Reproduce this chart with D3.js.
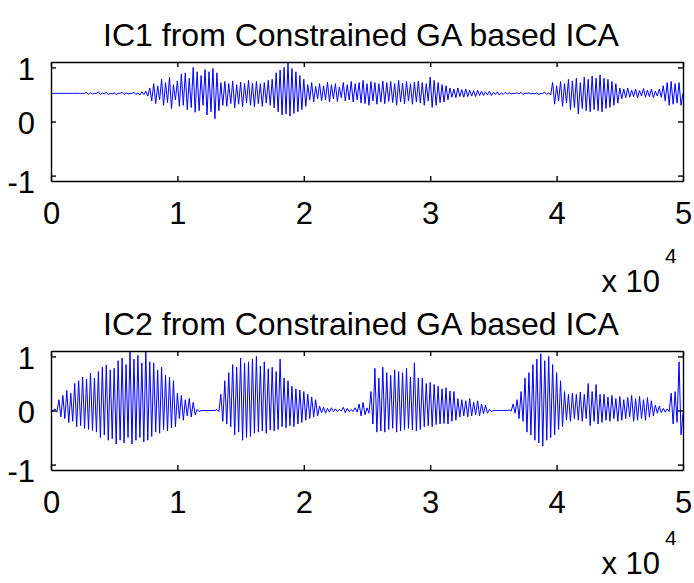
<!DOCTYPE html>
<html>
<head>
<meta charset="utf-8">
<script src="https://cdn.jsdelivr.net/npm/d3@7/dist/d3.min.js"></script>
<style>
  html, body { margin: 0; padding: 0; background: #fff; }
  svg { display: block; }
  text { font-family: "Liberation Sans", Arial, Helvetica, sans-serif; fill: #000; }
</style>
</head>
<body>
<svg id="chart" width="694" height="583"></svg>
<script>
// Two independent components recovered by the constrained GA based ICA,
// drawn over 50000 samples (one stored sample every 156.25 points).
const sampleCount = 50000;

const titles = ["IC1 from Constrained GA based ICA", "IC2 from Constrained GA based ICA"];
const xTickValues = [0, 10000, 20000, 30000, 40000, 50000];
const xTickLabels = ["0", "1", "2", "3", "4", "5"];
const yTickValues = [-1, 0, 1];
const yTickLabels = ["-1", "0", "1"];
const xExponent = "4";

const ic1 = [
  0.52,0.52, 0.52,0.52, 0.52,0.52, 0.52,0.52, 0.52,0.52,
  0.52,0.52, 0.52,0.52, 0.52,0.52, 0.52,0.52, 0.54,0.50,
  0.53,0.51, 0.52,0.52, 0.55,0.50, 0.53,0.51, 0.54,0.50,
  0.52,0.51, 0.53,0.50, 0.52,0.52, 0.54,0.50, 0.53,0.51,
  0.52,0.52, 0.54,0.50, 0.53,0.49, 0.55,0.50, 0.56,0.47,
  0.62,0.38, 0.70,0.33, 0.66,0.40, 0.78,0.30, 0.72,0.35,
  0.82,0.24, 0.68,0.40, 0.75,0.28, 0.88,0.30, 0.90,0.22,
  0.80,0.26, 1.00,0.17, 0.92,0.20, 0.85,0.30, 0.96,0.12,
  0.92,0.18, 0.98,0.05, 0.90,0.20, 0.72,0.30, 0.74,0.28,
  0.70,0.33, 0.75,0.25, 0.68,0.32, 0.73,0.27, 0.70,0.34,
  0.76,0.30, 0.71,0.27, 0.74,0.33, 0.70,0.28, 0.72,0.34,
  0.76,0.30, 0.78,0.25, 0.90,0.18, 0.95,0.12, 1.00,0.14,
  1.08,0.10, 0.98,0.15, 0.92,0.18, 0.85,0.22, 0.78,0.28,
  0.68,0.40, 0.72,0.36, 0.65,0.42, 0.70,0.38, 0.66,0.40,
  0.73,0.36, 0.68,0.42, 0.70,0.37, 0.64,0.44, 0.72,0.38,
  0.68,0.40, 0.74,0.36, 0.70,0.40, 0.72,0.34, 0.76,0.33,
  0.70,0.30, 0.74,0.38, 0.72,0.32, 0.70,0.36, 0.75,0.33,
  0.72,0.37, 0.74,0.35, 0.70,0.30, 0.76,0.36, 0.71,0.33,
  0.74,0.38, 0.70,0.32, 0.73,0.36, 0.75,0.34, 0.72,0.30,
  0.70,0.38, 0.82,0.26, 0.76,0.30, 0.72,0.35, 0.68,0.36,
  0.66,0.40, 0.62,0.45, 0.60,0.44, 0.62,0.46, 0.59,0.45,
  0.60,0.46, 0.58,0.47, 0.57,0.46, 0.58,0.48, 0.56,0.48,
  0.55,0.49, 0.56,0.48, 0.54,0.50, 0.55,0.49, 0.53,0.50,
  0.54,0.51, 0.53,0.51, 0.52,0.52, 0.53,0.51, 0.54,0.50,
  0.52,0.52, 0.53,0.51, 0.52,0.51, 0.53,0.50, 0.52,0.52,
  0.54,0.50, 0.53,0.49, 0.72,0.32, 0.66,0.38, 0.74,0.28,
  0.70,0.34, 0.78,0.22, 0.75,0.26, 0.80,0.14, 0.72,0.24,
  0.82,0.20, 0.78,0.18, 0.84,0.22, 0.80,0.20, 0.86,0.18,
  0.80,0.24, 0.78,0.26, 0.74,0.30, 0.70,0.34, 0.62,0.42,
  0.60,0.44, 0.62,0.45, 0.58,0.46, 0.60,0.44, 0.57,0.47,
  0.61,0.45, 0.58,0.46, 0.60,0.44, 0.56,0.47, 0.60,0.45,
  0.66,0.38, 0.72,0.30, 0.74,0.32, 0.70,0.34, 0.72,0.30,
  0.52
];

const ic2 = [
  0.00,0.00, 0.03,-0.03,
  0.20,-0.12, 0.28,-0.15, 0.37,-0.22, 0.32,-0.20,
  0.50,-0.30, 0.55,-0.28, 0.62,-0.33, 0.58,-0.35, 0.69,-0.37,
  0.60,-0.40, 0.72,-0.50, 0.80,-0.45, 0.84,-0.55, 0.75,-0.52, 0.78,-0.62,
  0.92,-0.55, 0.97,-0.60, 0.85,-0.50, 1.10,-0.62, 0.95,-0.55, 1.02,-0.50, 0.88,-0.58, 1.10,-0.55, 0.90,-0.48,
  0.88,-0.40, 0.75,-0.42, 0.80,-0.35, 0.65,-0.38, 0.62,-0.32, 0.55,-0.30,
  0.32,-0.15, 0.28,-0.18, 0.20,-0.10, 0.22,-0.12, 0.15,-0.08,
  0.02,-0.02, 0.00,0.00, 0.00,0.00, 0.00,0.00, 0.00,0.00, 0.02,-0.02,
  0.30,-0.20, 0.55,-0.25, 0.70,-0.30,
  0.85,-0.45, 0.80,-0.40, 0.97,-0.55, 0.88,-0.50, 0.90,-0.48, 0.95,-0.42,
  1.00,-0.40, 0.82,-0.38, 0.90,-0.42, 0.77,-0.36, 0.80,-0.38, 0.72,-0.35, 0.95,-0.30,
  0.60,-0.32, 0.55,-0.28, 0.45,-0.30, 0.40,-0.25, 0.38,-0.22,
  0.35,-0.18, 0.30,-0.15, 0.25,-0.12, 0.20,-0.10,
  0.08,-0.04, 0.06,-0.05, 0.04,-0.03, 0.05,-0.02, 0.03,-0.02, 0.02,-0.01, 0.06,-0.04,
  0.04,-0.02, 0.02,-0.02, 0.05,-0.03, 0.12,-0.10, 0.15,-0.08, 0.05,-0.05,
  0.35,-0.25, 0.78,-0.40, 0.60,-0.38,
  0.80,-0.40, 0.70,-0.35, 0.65,-0.33, 0.75,-0.40, 0.72,-0.38,
  0.70,-0.35, 0.78,-0.33, 0.62,-0.36, 0.88,-0.38, 0.60,-0.35,
  0.60,-0.30, 0.50,-0.28, 0.52,-0.30, 0.48,-0.26, 0.45,-0.25,
  0.40,-0.24, 0.42,-0.25, 0.36,-0.20, 0.35,-0.18,
  0.22,-0.12, 0.20,-0.10, 0.18,-0.12, 0.22,-0.10, 0.15,-0.08, 0.18,-0.10, 0.12,-0.06, 0.10,-0.05,
  0.02,-0.02, 0.00,0.00, 0.00,0.00, 0.00,0.00, 0.00,0.00, 0.01,-0.01, 0.12,-0.05,
  0.20,-0.15, 0.35,-0.20, 0.60,-0.40, 0.70,-0.45, 0.85,-0.55,
  0.95,-0.60, 1.05,-0.66, 0.92,-0.55, 1.00,-0.50, 0.85,-0.45,
  0.70,-0.35, 0.55,-0.30,
  0.35,-0.18, 0.30,-0.20, 0.32,-0.15, 0.30,-0.18, 0.34,-0.20, 0.30,-0.15,
  0.50,-0.28, 0.35,-0.20, 0.48,-0.25, 0.30,-0.22,
  0.30,-0.18, 0.25,-0.20, 0.28,-0.15, 0.22,-0.20, 0.26,-0.18,
  0.20,-0.15, 0.24,-0.12, 0.28,-0.20, 0.22,-0.18, 0.26,-0.15,
  0.20,-0.18, 0.24,-0.12, 0.18,-0.10, 0.10,-0.05, 0.08,-0.04,
  0.04,-0.03, 0.03,-0.02, 0.32,-0.25,
  0.35,-0.22, 0.90,-0.45,
  -0.05
];

const svg = d3.select("#chart");
const fontSize = 31;

const x = d3.scaleLinear().domain([0, sampleCount]).range([51, 683]);

const panels = [
  { data: ic1, title: titles[0], top: 62, bottom: 181, expY: 292 },
  { data: ic2, title: titles[1], top: 351, bottom: 470, expY: 574 }
];

panels.forEach(p => {
  const y = d3.scaleLinear().domain([-1.1, 1.1]).range([p.bottom, p.top]);
  const step = sampleCount / (p.data.length - 1);
  const g = svg.append("g");

  // signal trace
  const line = d3.line()
    .x((d, i) => x(i * step))
    .y(d => y(d));
  g.append("path")
    .datum(p.data)
    .attr("d", line)
    .attr("fill", "none")
    .attr("stroke", "#0000ff")
    .attr("stroke-width", 1)
    .attr("stroke-linejoin", "bevel");

  // frame with inward ticks on all four sides
  const tick = 5;
  const styleAxis = sel => {
    sel.select(".domain").attr("stroke", "#000").attr("stroke-width", 1.4);
    sel.selectAll(".tick line").attr("stroke", "#000").attr("stroke-width", 1.4);
  };

  const bottomAxis = d3.axisBottom(x).tickValues(xTickValues)
    .tickFormat((d, i) => xTickLabels[i]).tickSizeInner(-tick).tickSizeOuter(0).tickPadding(14);
  const gb = g.append("g").attr("transform", `translate(0,${p.bottom})`).call(bottomAxis);
  styleAxis(gb);
  gb.selectAll(".tick text").attr("font-size", fontSize).attr("fill", "#000")
    .attr("font-family", "Liberation Sans, Arial, sans-serif").attr("dy", "0.95em");

  const topAxis = d3.axisTop(x).tickValues(xTickValues).tickFormat("")
    .tickSizeInner(-tick).tickSizeOuter(0);
  styleAxis(g.append("g").attr("transform", `translate(0,${p.top})`).call(topAxis));

  const leftAxis = d3.axisLeft(y).tickValues(yTickValues)
    .tickFormat((d, i) => yTickLabels[i]).tickSizeInner(-tick).tickSizeOuter(0).tickPadding(16);
  const gl = g.append("g").attr("transform", `translate(${x.range()[0]},0)`).call(leftAxis);
  styleAxis(gl);
  gl.selectAll(".tick text").attr("font-size", fontSize).attr("fill", "#000")
    .attr("font-family", "Liberation Sans, Arial, sans-serif")
    .attr("dy", d => d < 0 ? "0.55em" : "0.38em");

  const rightAxis = d3.axisRight(y).tickValues(yTickValues).tickFormat("")
    .tickSizeInner(-tick).tickSizeOuter(0);
  styleAxis(g.append("g").attr("transform", `translate(${x.range()[1]},0)`).call(rightAxis));

  // title
  g.append("text")
    .attr("x", 361).attr("y", p.top - 16)
    .attr("text-anchor", "middle")
    .attr("font-size", 32)
    .text(p.title);

  // x-axis exponent label
  g.append("text")
    .attr("x", 660).attr("y", p.expY)
    .attr("text-anchor", "end")
    .attr("font-size", fontSize)
    .text("x 10");
  g.append("text")
    .attr("x", 665).attr("y", p.expY - 29)
    .attr("font-size", 21)
    .text(xExponent);
});
</script>
</body>
</html>
